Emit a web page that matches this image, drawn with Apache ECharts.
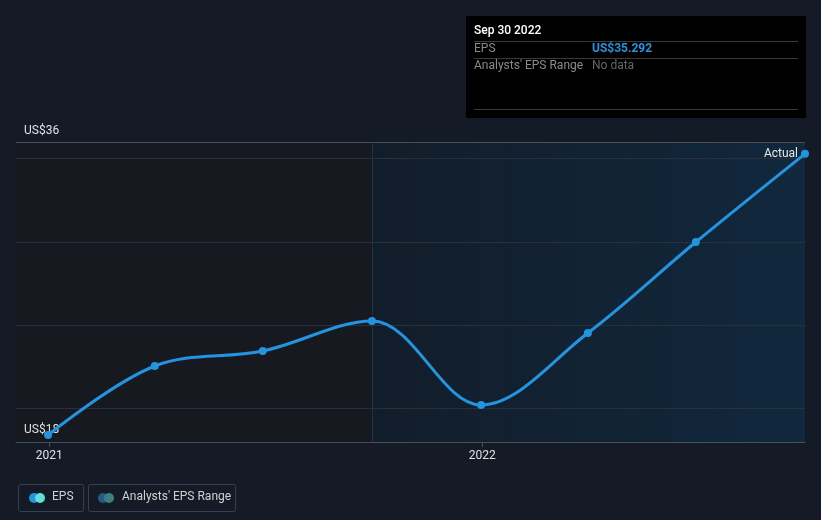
<!DOCTYPE html>
<html>
<head>
<meta charset="utf-8">
<script src="https://cdn.jsdelivr.net/npm/echarts@6/dist/echarts.min.js"></script>
<style>
html,body{margin:0;padding:0;background:#151b26;}
#c{width:821px;height:520px;}
</style>
</head>
<body>
<div id="c"></div>
<script>
var dates = ['2020-12-31','2021-03-31','2021-06-30','2021-09-30','2021-12-31','2022-03-31','2022-06-30','2022-09-30'];
var epsValues = [18.42, 22.56, 23.46, 25.26, 20.22, 24.54, 30.0, 35.292];
var gridValues = [20, 25, 30, 35];
var yMin = 18, yMax = 36;
var xStart = '2020-12-04', xEnd = '2022-09-30', actualStart = '2021-09-30';
var tooltipDate = 'Sep 30 2022', tooltipEps = 'US$35.292';

var FONT = 'Roboto, "Noto Sans", sans-serif';
var chart = echarts.init(document.getElementById('c'), null, {renderer:'canvas'});
var seriesData = dates.map(function(d,i){return [d, epsValues[i]];});

chart.setOption({
  backgroundColor:'#151b26',
  animation:false,
  textStyle:{fontFamily:FONT},
  grid:{left:16,right:16,top:142,bottom:78,containLabel:false},
  xAxis:{
    type:'time',
    min:xStart,max:xEnd,
    minInterval:365*24*3600*1000,
    splitNumber:2,
    axisLine:{lineStyle:{color:'#4a4f59',width:1}},
    axisTick:{show:true,length:5,lineStyle:{color:'#4a4f59'}},
    splitLine:{show:false},
    axisLabel:{color:'#e0e0e0',fontSize:12,margin:8,fontFamily:FONT,
      formatter:function(v){var d=new Date(v);return (d.getMonth()===0&&d.getDate()===1)?String(d.getFullYear()):'';}}
  },
  yAxis:{
    type:'value',min:yMin,max:yMax,interval:18,
    axisLine:{show:false},axisTick:{show:false},
    splitLine:{show:false},
    axisLabel:{inside:true,margin:8,verticalAlign:'bottom',padding:[0,0,5,0],color:'#e0e0e0',fontSize:12,fontFamily:FONT,
      showMinLabel:true,showMaxLabel:true,hideOverlap:false,
      formatter:function(v){return v===yMax?'US$'+v:'';}}
  },
  series:[{
    type:'line',
    data:seriesData,
    smooth:0.35,
    symbol:'circle',symbolSize:8,
    lineStyle:{color:'#2394df',width:3},
    itemStyle:{color:'#2394df'},
    z:5,
    markArea:{silent:true,data:[
      [{xAxis:xStart,itemStyle:{color:'#16191f'}},{xAxis:actualStart}],
      [{xAxis:actualStart,itemStyle:{color:new echarts.graphic.LinearGradient(0,0,1,0,[{offset:0,color:'#121d2a'},{offset:1,color:'#11283d'}])}},{xAxis:xEnd}]
    ]},
    markLine:{silent:true,symbol:'none',label:{show:false},
      data:gridValues.map(function(v){return {yAxis:v,lineStyle:{color:'#2a2f39',width:1,type:'solid'}};})
        .concat([{yAxis:yMax,lineStyle:{color:'#4a4f59',width:1,type:'solid'}},
                 {xAxis:actualStart,lineStyle:{color:'#1e3447',width:1,type:'solid'}}])
    }
  }],
  graphic:[
    {type:'text',z:4,zlevel:0,x:24,y:424,style:{text:'US$'+yMin,fill:'#e0e0e0',font:'12px '+FONT}},
    {type:'text',z:100,x:798,y:148,style:{text:'Actual',fill:'#e8e8e8',font:'12px '+FONT,textAlign:'right'}},
    {type:'group',left:466,top:16,z:100,children:[
      {type:'rect',shape:{x:0,y:0,width:340,height:102},style:{fill:'#000'}},
      {type:'text',x:8,y:9,style:{text:tooltipDate,fill:'#fff',font:'500 12px '+FONT}},
      {type:'line',shape:{x1:8,y1:25.5,x2:332,y2:25.5},style:{stroke:'#3a3a3a',lineWidth:1}},
      {type:'text',x:8,y:27,style:{text:'EPS',fill:'#8a8a8a',font:'12px '+FONT}},
      {type:'text',x:126,y:27,style:{text:tooltipEps,fill:'#2394df',font:'bold 12px '+FONT}},
      {type:'line',shape:{x1:8,y1:42.5,x2:332,y2:42.5},style:{stroke:'#3a3a3a',lineWidth:1}},
      {type:'text',x:8,y:44,style:{text:"Analysts' EPS Range",fill:'#8a8a8a',font:'12px '+FONT}},
      {type:'text',x:126,y:44,style:{text:'No data',fill:'#666',font:'12px '+FONT}},
      {type:'line',shape:{x1:8,y1:93.5,x2:332,y2:93.5},style:{stroke:'#3a3a3a',lineWidth:1}}
    ]},
    {type:'group',left:16,top:482,children:[
      {type:'rect',shape:{x:0.5,y:0.5,width:65,height:27,r:2},style:{fill:'none',stroke:'#3a3f4a',lineWidth:1}},
      {type:'circle',shape:{cx:16,cy:14,r:5},style:{fill:'#2394df'}},
      {type:'circle',shape:{cx:22,cy:14,r:5},style:{fill:'#5ee0d7'}},
      {type:'text',x:34,y:7,style:{text:'EPS',fill:'#d0d0d0',font:'12px '+FONT}}
    ]},
    {type:'group',left:86,top:482,children:[
      {type:'rect',shape:{x:0.5,y:0.5,width:147,height:27,r:2},style:{fill:'none',stroke:'#3a3f4a',lineWidth:1}},
      {type:'circle',shape:{cx:15,cy:14,r:5},style:{fill:'#255a85'}},
      {type:'circle',shape:{cx:21,cy:14,r:5},style:{fill:'#3e7f80'}},
      {type:'text',x:34,y:7,style:{text:"Analysts' EPS Range",fill:'#d0d0d0',font:'12px '+FONT}}
    ]}
  ]
});
</script>
</body>
</html>
